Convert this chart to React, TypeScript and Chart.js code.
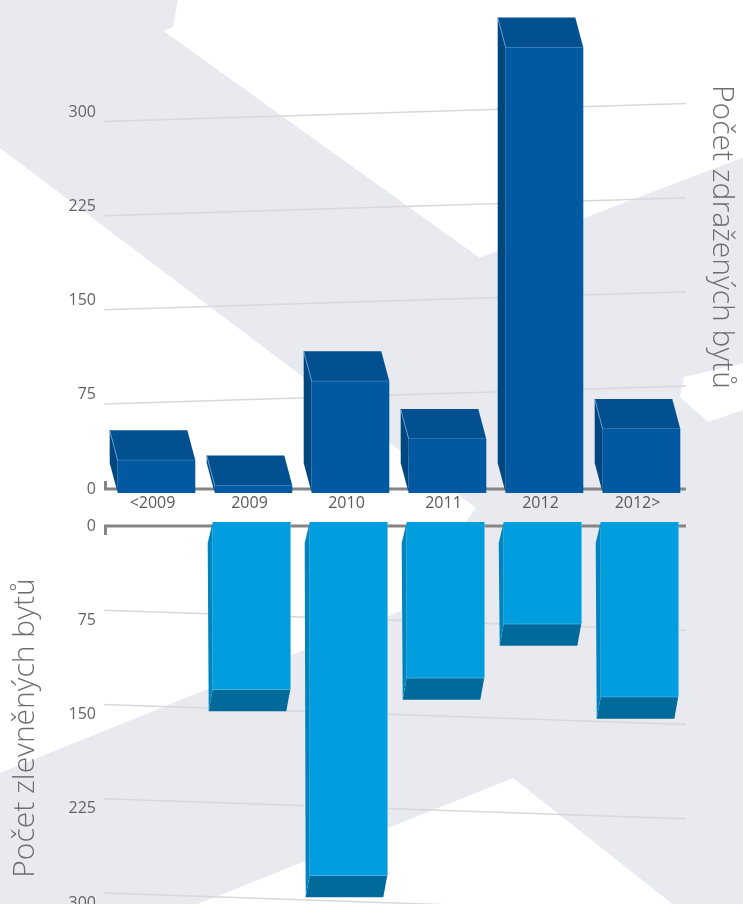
import React, { useEffect, useRef } from 'react';
import { Chart, registerables } from 'chart.js';

Chart.register(...registerables);

// ---- data ----
const categories = ['<2009', '2009', '2010', '2011', '2012', '2012>'];
const raisedCounts = [26, 6, 89, 43, 355, 51]; // Počet zdražených bytů
const loweredCounts = [0, 133, 281, 124, 81, 139]; // Počet zlevněných bytů
const tickValues = [0, 75, 150, 225, 300];
const raisedTitle = 'Počet zdražených bytů';
const loweredTitle = 'Počet zlevněných bytů';

// ---- styles ----
const FONT = '"Open Sans", "DejaVu Sans", sans-serif';
const TICK_COLOR = '#636466';
const TITLE_COLOR = '#6d6e71';
const GRID_COLOR = '#d8d8dc';
const AXIS_COLOR = '#858585';
const BG_GRAY = '#e9eaf0';

type Kind = 'up' | 'down';

function make3dPlugin(kind: Kind) {
  const up = kind === 'up';
  const dx = up ? 4 : 2;
  const dy = up ? 4 : -4;
  return {
    id: 'bar3d_' + kind,
    beforeDatasetsDraw(chart: any) {
      const { ctx, chartArea } = chart;
      const ys = chart.scales.y;
      ctx.save();
      ctx.strokeStyle = GRID_COLOR;
      ctx.lineWidth = 1.5;
      for (const v of tickValues) {
        if (v === 0) continue;
        const p = ys.getPixelForValue(v);
        const s = up ? 9 : -10;
        ctx.beginPath();
        ctx.moveTo(chartArea.left, p + s);
        ctx.lineTo(chartArea.right, p - s);
        ctx.stroke();
      }
      const p0 = ys.getPixelForValue(0);
      ctx.strokeStyle = AXIS_COLOR;
      ctx.lineWidth = 3;
      ctx.lineJoin = 'miter';
      ctx.beginPath();
      const lx = chartArea.left + 1.5;
      if (up) {
        ctx.moveTo(lx, p0 - 8);
        ctx.lineTo(lx, p0);
      } else {
        ctx.moveTo(lx, p0 + 9);
        ctx.lineTo(lx, p0);
      }
      ctx.lineTo(chartArea.right, p0);
      ctx.stroke();
      ctx.restore();

      ctx.save();
      ctx.translate(dx, dy);
      const meta = chart.getDatasetMeta(0);
      const values = chart.data.datasets[0].data as number[];
      meta.data.forEach((el: any, i: number) => {
        if (!values[i]) return;
        const { x, y, base, width } = el.getProps(['x', 'y', 'base', 'width'], true);
        const fl = x - width / 2;
        const fr = x + width / 2;
        if (up) {
          const ft = y;
          const fb = base;
          const ox = -8;
          const oy = -30;
          ctx.fillStyle = '#02508f';
          ctx.beginPath();
          ctx.moveTo(fl, ft);
          ctx.lineTo(fr, ft);
          ctx.lineTo(fr + ox, ft + oy);
          ctx.lineTo(fl + ox, ft + oy);
          ctx.closePath();
          ctx.fill();
          ctx.fillStyle = '#00477f';
          ctx.beginPath();
          ctx.moveTo(fl, ft);
          ctx.lineTo(fl + ox, ft + oy);
          ctx.lineTo(fl + ox, fb + oy);
          ctx.lineTo(fl, fb);
          ctx.closePath();
          ctx.fill();
          ctx.strokeStyle = 'rgba(110,160,215,0.85)';
          ctx.lineWidth = 1;
          ctx.beginPath();
          ctx.moveTo(fl + ox, ft + oy);
          ctx.lineTo(fl, ft);
          ctx.lineTo(fr, ft);
          ctx.stroke();
        } else {
          const ft = base;
          const fb = y;
          const ox = -5;
          const oy = 22;
          ctx.fillStyle = '#006a9b';
          ctx.beginPath();
          ctx.moveTo(fl, fb);
          ctx.lineTo(fr, fb);
          ctx.lineTo(fr + ox + 1, fb + oy);
          ctx.lineTo(fl + ox + 1, fb + oy);
          ctx.closePath();
          ctx.fill();
          ctx.fillStyle = '#0084c0';
          ctx.beginPath();
          ctx.moveTo(fl, ft);
          ctx.lineTo(fl + ox, ft + oy - 1);
          ctx.lineTo(fl + ox + 1, fb + oy);
          ctx.lineTo(fl, fb);
          ctx.closePath();
          ctx.fill();
          ctx.strokeStyle = 'rgba(120,200,240,0.9)';
          ctx.lineWidth = 1;
          ctx.beginPath();
          ctx.moveTo(fl, fb);
          ctx.lineTo(fr, fb);
          ctx.lineTo(fr, ft);
          ctx.stroke();
        }
      });
    },
    afterDatasetsDraw(chart: any) {
      chart.ctx.restore();
    },
  };
}

function tickFont() {
  return { family: FONT, size: 16 };
}

function UpperChart() {
  const ref = useRef<HTMLCanvasElement>(null);
  useEffect(() => {
    if (!ref.current) return;
    const chart = new Chart(ref.current, {
      type: 'bar',
      data: {
        labels: categories,
        datasets: [
          {
            data: raisedCounts,
            backgroundColor: '#0059a1',
            borderWidth: 0,
            barPercentage: 0.8,
            categoryPercentage: 1,
            clip: false as any,
          },
        ],
      },
      options: {
        animation: false,
        responsive: false,
        maintainAspectRatio: false,
        layout: { padding: 0 },
        plugins: {
          legend: { display: false },
          tooltip: { enabled: false },
          title: { display: false },
        },
        scales: {
          x: {
            type: 'category',
            grid: { display: false, drawTicks: false },
            border: { display: false },
            ticks: {
              font: tickFont(),
              color: '#58595b',
              padding: 5,
              maxRotation: 0,
              autoSkip: false,
            },
            afterFit: (s: any) => {
              s.height = 31;
              s.paddingLeft = 0;
              s.paddingRight = 0;
            },
          },
          y: {
            type: 'linear',
            position: 'left',
            min: 0,
            max: 401.6,
            grid: { display: false, drawTicks: false },
            border: { display: false },
            ticks: { font: tickFont(), color: TICK_COLOR, padding: 8 },
            afterBuildTicks: (s: any) => {
              s.ticks = tickValues.map((v) => ({ value: v }));
            },
            afterFit: (s: any) => {
              s.width = 104;
              s.paddingTop = 0;
              s.paddingBottom = 0;
            },
          },
          y2: {
            type: 'linear',
            position: 'right',
            grid: { display: false, drawTicks: false },
            border: { display: false },
            ticks: { display: false },
            title: {
              display: true,
              text: raisedTitle,
              color: TITLE_COLOR,
              font: { family: FONT, size: 30, weight: '300' as any },
              padding: { top: 3, bottom: 18 },
            },
            afterFit: (s: any) => {
              s.width = 57;
              s.paddingTop = 0;
              s.paddingBottom = 0;
            },
          },
        },
      } as any,
      plugins: [make3dPlugin('up')],
    });
    return () => chart.destroy();
  }, []);
  return (
    <canvas
      ref={ref}
      width={743}
      height={535}
      style={{ position: 'absolute', left: 0, top: -15, width: 743, height: 535 }}
    />
  );
}

function LowerChart() {
  const ref = useRef<HTMLCanvasElement>(null);
  useEffect(() => {
    if (!ref.current) return;
    const chart = new Chart(ref.current, {
      type: 'bar',
      data: {
        labels: categories,
        datasets: [
          {
            data: loweredCounts,
            backgroundColor: '#009ddf',
            borderWidth: 0,
            barPercentage: 0.8,
            categoryPercentage: 1,
            clip: false as any,
          },
        ],
      },
      options: {
        animation: false,
        responsive: false,
        maintainAspectRatio: false,
        layout: { padding: { top: 14, right: 57, left: 0, bottom: 0 } },
        plugins: {
          legend: { display: false },
          tooltip: { enabled: false },
          title: { display: false },
        },
        scales: {
          x: {
            type: 'category',
            display: false,
          },
          y: {
            type: 'linear',
            position: 'left',
            reverse: true,
            min: 0,
            max: 321.4,
            grid: { display: false, drawTicks: false },
            border: { display: false },
            ticks: { font: tickFont(), color: TICK_COLOR, padding: 8 },
            afterBuildTicks: (s: any) => {
              s.ticks = tickValues.map((v) => ({ value: v }));
            },
            title: {
              display: true,
              text: loweredTitle,
              color: TITLE_COLOR,
              font: { family: FONT, size: 30, weight: '300' as any },
              padding: { top: 7, bottom: 0 },
            },
            afterFit: (s: any) => {
              s.width = 104;
              s.paddingTop = 0;
              s.paddingBottom = 0;
            },
          },
        },
      } as any,
      plugins: [make3dPlugin('down')],
    });
    return () => chart.destroy();
  }, []);
  return (
    <canvas
      ref={ref}
      width={743}
      height={418}
      style={{ position: 'absolute', left: 0, top: 512, width: 743, height: 418 }}
    />
  );
}

function Background() {
  return (
    <svg
      width={743}
      height={904}
      style={{ position: 'absolute', left: 0, top: 0 }}
      viewBox="0 0 743 904"
    >
      <rect x={0} y={0} width={743} height={904} fill={BG_GRAY} />
      <polygon points="178,0 173,27 163.5,31 479.7,257.8 743,157.6 743,0" fill="#ffffff" />
      <polygon points="0,148 476,508 403,610 0,773" fill="#ffffff" />
      <polygon points="513,778 183,910 680,910" fill="#ffffff" />
      <polygon points="743,363 684,377 680,397 708,422 743,410" fill="#ffffff" />
    </svg>
  );
}

export default function App() {
  return (
    <div
      style={{
        position: 'fixed',
        left: 0,
        top: 0,
        width: 743,
        height: 904,
        overflow: 'hidden',
        background: '#ffffff',
      }}
    >
      <Background />
      <UpperChart />
      <LowerChart />
    </div>
  );
}
